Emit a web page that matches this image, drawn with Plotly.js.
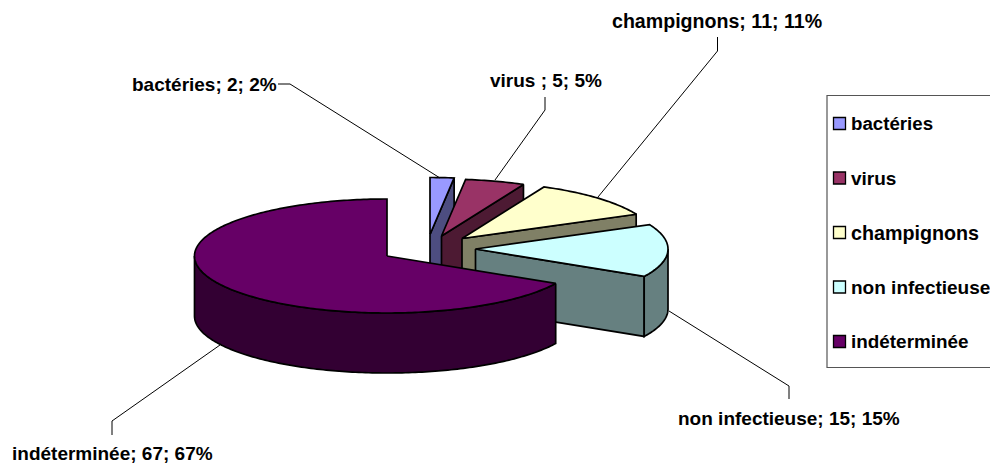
<!DOCTYPE html>
<html><head><meta charset="utf-8">
<script src="https://cdn.plot.ly/plotly-3.0.1.min.js"></script>
<style>html,body{margin:0;padding:0;background:#fff;overflow:hidden}#c{width:990px;height:467px}</style>
</head><body><div id="c"></div>
<script>
// Data
const categories = ['bactéries','virus ','champignons','non infectieuse','indéterminée'];
const values = [2,5,11,15,67];
const colors = ['#9999FF','#993366','#FFFFCC','#CCFFFF','#660066'];
const sideColors = ['#4D4D80','#4D1A33','#808066','#668080','#330033'];

// Layout of the pseudo-3D pie (paper pixels)
const apexX = [430,441.5,462,475.5,387];
const apexY = [234.5,236,238.5,249,256];
const rx = 192.5, ry = 57, depth = 60;
const labelX = [130.5,489,611,677,11];
const labelY = [84,80,21,418,453];
const labelSize = [19,19,19.6,19,19];
const legendSize = [18.7,19,19.7,19,18.9];
const leaderX = [[278,290,440],[545,545,495],[717.5,717.5,598],[789,789,669],[112,112,220]];
const leaderY = [[84,84,178],[97,110,180],[37,51,197],[399,386,311],[435,421,345]];
const legendY = [123.5,178,232.5,287,341.5];

const total = values.reduce((a,b)=>a+b,0);
const rad = d => d*Math.PI/180;
const px = (i,a) => apexX[i]+rx*Math.sin(rad(a));
const py = (i,a) => apexY[i]-ry*Math.cos(rad(a));
function arc(a0,a1){const out=[];const n=Math.max(2,Math.ceil(Math.abs(a1-a0)));for(let k=0;k<=n;k++)out.push(a0+(a1-a0)*k/n);return out;}
function poly(xs,ys,fill){return {type:'scatter',mode:'lines',x:xs.concat([xs[0]]),y:ys.concat([ys[0]]),fill:'toself',fillcolor:fill,
  line:{color:'#000',width:1.7,simplify:false},hoverinfo:'skip',showlegend:false};}

const traces=[];
let cum=0;
categories.forEach((c,i)=>{
  const a0=cum/total*360; cum+=values[i]; const a1=cum/total*360;
  // radial wall along the closing edge
  if(a1<180){
    traces.push(poly([apexX[i],px(i,a1),px(i,a1),apexX[i]],[apexY[i],py(i,a1),py(i,a1)+depth,apexY[i]+depth],sideColors[i]));
  }
  // outer rim (front half only)
  const r0=Math.max(a0,90), r1=Math.min(a1,270);
  if(r1>r0){
    const as=arc(r0,r1);
    const xs=as.map(a=>px(i,a)), ys=as.map(a=>py(i,a));
    traces.push(poly(xs.concat(xs.slice().reverse()),ys.concat(ys.slice().reverse().map(y=>y+depth)),sideColors[i]));
  }
  // top face
  const as=arc(a0,a1);
  traces.push(poly([apexX[i]].concat(as.map(a=>px(i,a))),[apexY[i]].concat(as.map(a=>py(i,a))),colors[i]));
  // leader line
  traces.push({type:'scatter',mode:'lines',x:leaderX[i],y:leaderY[i],line:{color:'#000',width:1},hoverinfo:'skip',showlegend:false});
});
// legend swatches
traces.push({type:'scatter',mode:'markers',x:categories.map(()=>839.5),y:legendY,
  marker:{symbol:'square',size:12,color:colors,line:{color:'#000',width:1.3}},hoverinfo:'skip',showlegend:false});

const family='"Liberation Sans", Arial, sans-serif';
const annotations=[];
categories.forEach((c,i)=>{
  annotations.push({x:labelX[i],y:labelY[i],xref:'x',yref:'y',xanchor:'left',yanchor:'middle',showarrow:false,align:'left',borderpad:0,
    text:'<b>'+c+'; '+values[i]+'; '+Math.round(values[i]/total*100)+'%</b>',font:{family,size:labelSize[i],color:'#000'}});
  annotations.push({x:849.5,y:legendY[i],xref:'x',yref:'y',xanchor:'left',yanchor:'middle',showarrow:false,align:'left',borderpad:0,
    text:'<b>'+c.trim()+'</b>',font:{family,size:legendSize[i],color:'#000'}});
});
const layout={width:990,height:467,margin:{l:0,r:0,t:0,b:0},paper_bgcolor:'#fff',plot_bgcolor:'#fff',showlegend:false,
  xaxis:{range:[0,990],visible:false,fixedrange:true},
  yaxis:{range:[467,0],visible:false,fixedrange:true},
  shapes:[{type:'rect',xref:'x',yref:'y',x0:827,x1:1000,y0:95.5,y1:367.5,line:{color:'#555',width:1.2},fillcolor:'rgba(0,0,0,0)',layer:'below'}],
  annotations};
Plotly.newPlot('c',traces,layout,{displayModeBar:false,staticPlot:true});
</script></body></html>
